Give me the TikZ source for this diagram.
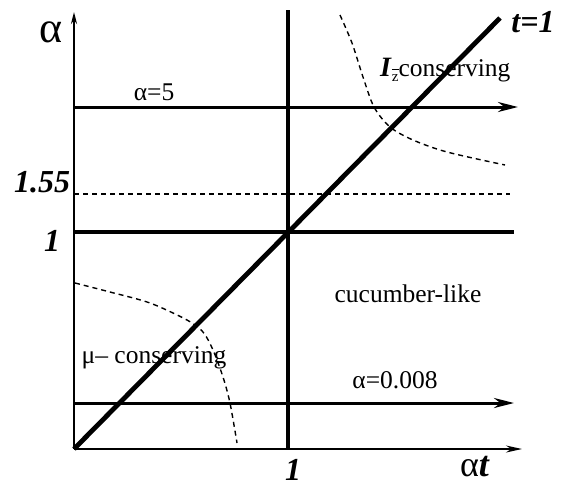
\documentclass[tikz,border=0pt]{standalone}
\usepackage{fontspec}
\setmainfont{Liberation Serif}
\usetikzlibrary{arrows.meta}
\begin{document}
\begin{tikzpicture}[x=1pt,y=-1pt,
  axis/.style={line width=2pt},
  thickl/.style={line width=4.8pt},
  medl/.style={line width=3pt},
  dashl/.style={line width=1.4pt,dash pattern=on 5pt off 4pt},
  arr/.style={-{Stealth[length=20pt,width=10pt]}},
  lbl/.style={inner sep=0pt,font=\fontsize{25.5}{29}\selectfont},
  bil/.style={inner sep=0pt,font=\fontsize{32}{36}\selectfont\bfseries\itshape}]
\useasboundingbox (0,0) rectangle (564,491);
\coordinate (O) at (74,449);
\coordinate (ytop) at (74,12);
\coordinate (xend) at (522,449);
\coordinate (vtop) at (288,10);
\coordinate (vbot) at (288,449);
\coordinate (h1a) at (74,232);
\coordinate (h1b) at (514,232);
\coordinate (h5a) at (74,107);
\coordinate (h5b) at (518,107);
\coordinate (hda) at (74,194);
\coordinate (hdb) at (510,194);
\coordinate (h8a) at (74,403);
\coordinate (h8b) at (514,403);
\coordinate (dtop) at (500,18);
% axes
\draw[axis,-{Stealth[length=12pt,width=6pt]}] (O) -- (ytop);
\draw[axis,-{Stealth[length=16pt,width=7pt]}] (O) -- (xend);
% lines
\draw[thickl] (vbot) -- (vtop);
\draw[thickl] (h1a) -- (h1b);
\draw[medl,arr] (h5a) -- (h5b);
\draw[dashl] (hda) -- (hdb);
\draw[medl,arr] (h8a) -- (h8b);
\draw[thickl] (O) -- (dtop);
% dashed curves
\draw[dashl] plot[smooth] coordinates {(340,15) (352,43) (363,77) (374,107) (390,127) (413,140) (447,152) (505,165)};
\draw[dashl] plot[smooth] coordinates {(75,283) (110,292) (150,303) (187,320) (203,332) (213,350) (223,377) (230,403) (237,443)};
% labels
\node[inner sep=0pt,font=\fontsize{44}{48}\selectfont] (la) at (51,32) {α};
\node[lbl] (l5) at (154,92) {α=5};
\node[bil] (l155) at (42,182) {1.55};
\node[bil] (l1) at (52,241) {1};
\node[bil] (lt) at (533,22) {t=1};
\node[lbl,anchor=base west] (liz) at (380,76) {{\fontsize{28}{30}\selectfont\textbf{\textit{I}}}\raisebox{-5pt}{\fontsize{15}{15}\selectfont\rlap{\rule[11pt]{7pt}{0.8pt}}z}conserving};
\node[lbl] (lcu) at (408,294) {cucumber-like};
\node[lbl] (lmu) at (154,358) {μ– conserving};
\node[lbl] (l008) at (395,380) {α=0.008};
\node[bil] (lb1) at (293,470) {1};
\node[inner sep=0pt,font=\fontsize{36}{40}\selectfont] (lat) at (475,467) {α\textbf{\textit{t}}};
\end{tikzpicture}
\end{document}
